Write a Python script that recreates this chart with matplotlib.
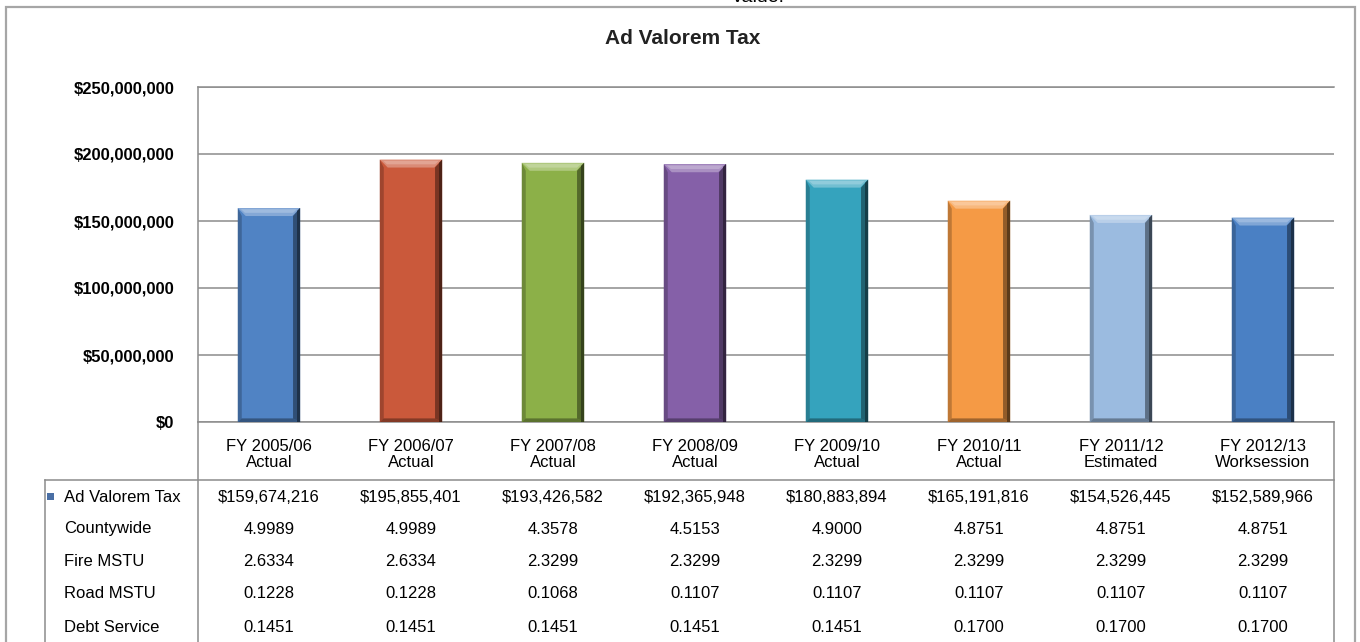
import matplotlib
matplotlib.use("Agg")
import matplotlib.pyplot as plt
from matplotlib import transforms, font_manager
from matplotlib.font_manager import FontProperties
from matplotlib.patches import Polygon, Rectangle
from matplotlib.lines import Line2D
from matplotlib.colors import to_rgb

# fiscal years and ad valorem revenue
years = ["FY 2005/06", "FY 2006/07", "FY 2007/08", "FY 2008/09",
         "FY 2009/10", "FY 2010/11", "FY 2011/12", "FY 2012/13"]
status = ["Actual", "Actual", "Actual", "Actual",
          "Actual", "Actual", "Estimated", "Worksession"]
ad_valorem = [159674216, 195855401, 193426582, 192365948,
              180883894, 165191816, 154526445, 152589966]

# millage rates shown in the table under the chart
countywide = ["4.9989", "4.9989", "4.3578", "4.5153", "4.9000", "4.8751", "4.8751", "4.8751"]
fire_mstu = ["2.6334", "2.6334", "2.3299", "2.3299", "2.3299", "2.3299", "2.3299", "2.3299"]
road_mstu = ["0.1228", "0.1228", "0.1068", "0.1107", "0.1107", "0.1107", "0.1107", "0.1107"]
debt_service = ["0.1451", "0.1451", "0.1451", "0.1451", "0.1451", "0.1700", "0.1700", "0.1700"]

yticks = [0, 50e6, 100e6, 150e6, 200e6, 250e6]
bar_colors = ["#5083C4", "#CA593B", "#8CB048", "#8560A8",
              "#35A3BD", "#F59A45", "#9BBBE0", "#4A80C4"]

W, H = 1360, 642
fig = plt.figure(figsize=(W / 100, H / 100), dpi=100)
fig.patch.set_facecolor("white")

def fx(px):
    return px / W

def fy(py):
    return 1 - py / H

GRID = "#8C8C8C"
TXT = ["Liberation Sans", "DejaVu Sans"]

# narrow bold face for the value axis, if the system has it
try:
    font_manager.findfont(FontProperties(family="Liberation Sans Narrow", weight="bold"),
                          fallback_to_default=False)
    ytick_font = dict(fontfamily=["Liberation Sans Narrow", "DejaVu Sans"], fontsize=14)
except ValueError:
    ytick_font = dict(fontfamily=TXT, fontsize=12)

ax_l, ax_r, ax_t, ax_b = 198, 1334, 87, 422
ax = fig.add_axes([fx(ax_l), fy(ax_b), fx(ax_r - ax_l), (ax_b - ax_t) / H])
ax.set_xlim(-0.5, len(years) - 0.5)
ax.set_ylim(0, 250e6)

x = list(range(len(years)))
bars = ax.bar(x, ad_valorem, width=0.44, color=bar_colors, zorder=3)

# bevel effect on each bar
px_x = (ax_r - ax_l) / len(years)
px_y = (ax_b - ax_t) / 250e6
bx, by = 8 / px_x, 8 / px_y

def shade(c, f):
    r, g, b = to_rgb(c)
    if f >= 1:
        return (r + (1 - r) * (f - 1), g + (1 - g) * (f - 1), b + (1 - b) * (f - 1))
    return (r * f, g * f, b * f)

for bar, c in zip(bars, bar_colors):
    x0 = bar.get_x()
    x1 = x0 + bar.get_width()
    h = bar.get_height()
    parts = [
        # top face, light
        ([(x0, h), (x1, h), (x1 - bx, h - by), (x0 + bx, h - by)], shade(c, 1.3), 4),
        ([(x0 + bx * 0.4, h - by * 0.15), (x1 - bx * 0.4, h - by * 0.15),
          (x1 - bx * 0.9, h - by * 0.6), (x0 + bx * 0.9, h - by * 0.6)], shade(c, 1.45), 5),
        # right side, dark
        ([(x1, h), (x1, 0), (x1 - bx * 0.9, by * 0.4), (x1 - bx * 0.9, h - by)], shade(c, 0.6), 4),
        ([(x1, h), (x1, 0), (x1 - bx * 0.35, 0), (x1 - bx * 0.35, h - by * 0.4)], shade(c, 0.38), 5),
        # left side
        ([(x0, h), (x0 + bx * 0.5, h - by), (x0 + bx * 0.5, by * 0.4), (x0, 0)], shade(c, 0.78), 4),
        # bottom
        ([(x0, 0), (x1, 0), (x1 - bx * 0.9, by * 0.45), (x0 + bx * 0.5, by * 0.45)], shade(c, 0.65), 4),
    ]
    for pts, col, z in parts:
        ax.add_patch(Polygon(pts, closed=True, facecolor=col, edgecolor="none", zorder=z))

ax.set_yticks(yticks)
ax.set_yticklabels(["$0" if v == 0 else "${:,.0f}".format(v) for v in yticks],
                   fontweight="bold", **ytick_font)
ax.tick_params(axis="y", length=0, pad=17)
ax.set_xticks(x)
ax.set_xticklabels([y + "\n" + s for y, s in zip(years, status)],
                   fontfamily=TXT, fontsize=12, linespacing=1.12)
ax.tick_params(axis="x", length=0, pad=12)
ax.yaxis.grid(True, color=GRID, linewidth=1.1, zorder=0)
ax.set_axisbelow(True)
for side in ("left", "bottom", "top"):
    ax.spines[side].set_color(GRID)
    ax.spines[side].set_linewidth(1.1)
ax.spines["right"].set_visible(False)

# title and the cut-off caption above the chart frame
fig.text(fx(683), fy(38), "Ad Valorem Tax", ha="center", va="center",
         fontsize=15, fontweight="bold", fontfamily=TXT, color="#222222")
fig.text(fx(758), fy(2), "Value:", ha="center", va="baseline",
         fontsize=14, fontfamily=TXT)

# outer chart frame
fig.add_artist(Rectangle((fx(6), fy(H + 10)), fx(1355 - 6), (H + 10 - 7) / H,
                         transform=fig.transFigure, fill=False,
                         edgecolor="#A6A6A6", linewidth=1.6))

# data table outline
def fline(xs, ys):
    fig.add_artist(Line2D([fx(v) for v in xs], [fy(v) for v in ys],
                          transform=fig.transFigure, color=GRID, linewidth=1.1))

fline([ax_l, ax_l], [ax_b, H + 5])
fline([ax_r, ax_r], [ax_b, H + 5])
fline([45, ax_r], [480, 480])
fline([45, 45], [480, H + 5])

# table rows
rows = [("Ad Valorem Tax", ["${:,.0f}".format(v) for v in ad_valorem]),
        ("Countywide", countywide),
        ("Fire MSTU", fire_mstu),
        ("Road MSTU", road_mstu),
        ("Debt Service", debt_service)]
row_y = [497, 529, 562, 594, 627]
tx = transforms.blended_transform_factory(ax.transData, fig.transFigure)
for (label, vals), py in zip(rows, row_y):
    fig.text(fx(64), fy(py), label, ha="left", va="center",
             fontsize=12, fontfamily=TXT)
    for i, v in enumerate(vals):
        fig.text(i, fy(py), v, transform=tx, ha="center", va="center",
                 fontsize=12, fontfamily=TXT)

# legend key in front of the series row
fig.add_artist(Rectangle((fx(47), fy(500)), fx(7), 7 / H,
                         transform=fig.transFigure, facecolor="#4A6FA5",
                         edgecolor="none"))

fig.savefig("out.png", dpi=100)
